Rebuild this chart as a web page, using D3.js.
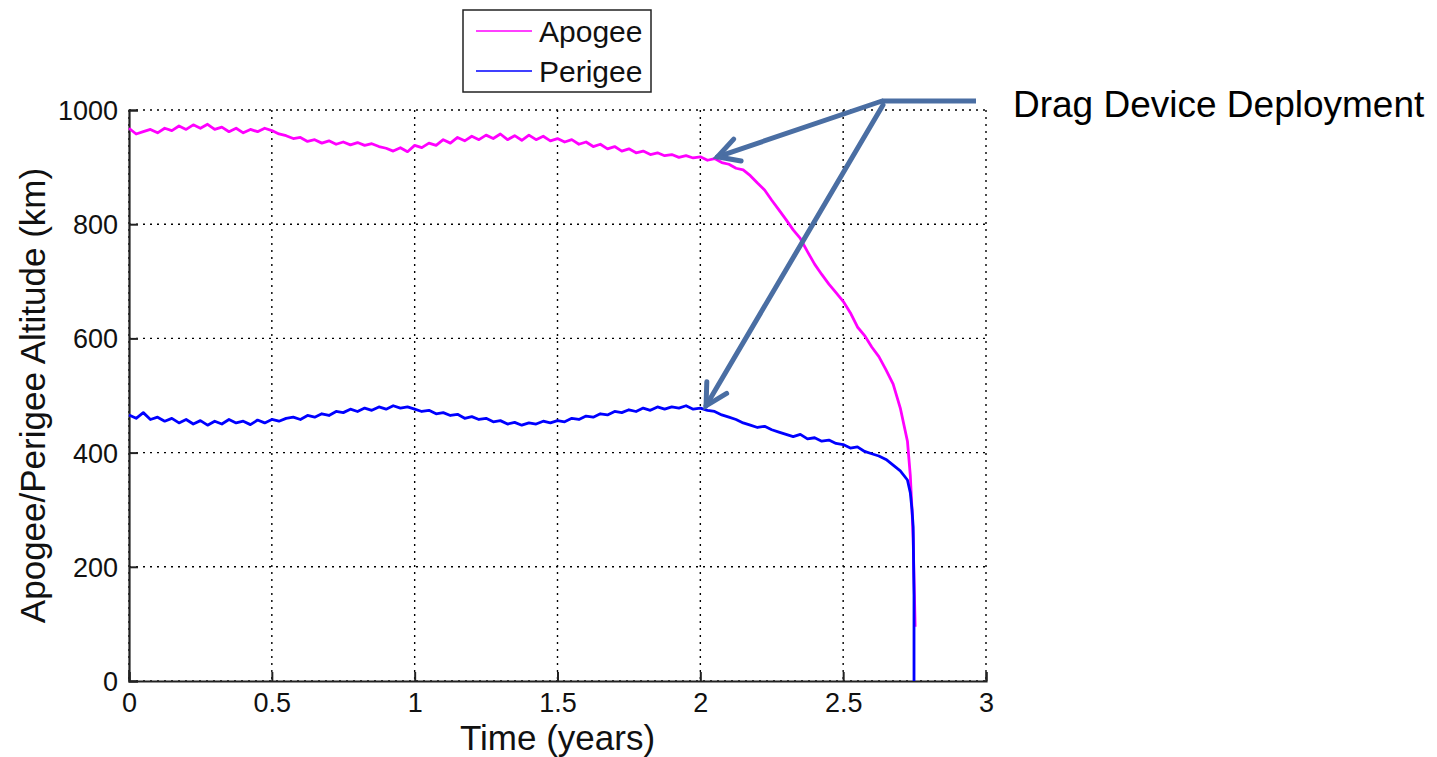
<!DOCTYPE html>
<html>
<head>
<meta charset="utf-8">
<script src="https://cdn.jsdelivr.net/npm/d3@7"></script>
<style>
  body { margin: 0; background: #fff; }
  svg { font-family: "Liberation Sans", Arial, Helvetica, sans-serif; }
</style>
</head>
<body>
<svg id="chart" width="1437" height="757"></svg>
<script>
// sample times (years), rows of 10 = 0.25 yr each
var years = [
  0.000,0.025,0.050,0.075,0.100,0.125,0.150,0.175,0.200,0.225,
  0.250,0.275,0.300,0.325,0.350,0.375,0.400,0.425,0.450,0.475,
  0.500,0.525,0.550,0.575,0.600,0.625,0.650,0.675,0.700,0.725,
  0.750,0.775,0.800,0.825,0.850,0.875,0.900,0.925,0.950,0.975,
  1.000,1.025,1.050,1.075,1.100,1.125,1.150,1.175,1.200,1.225,
  1.250,1.275,1.300,1.325,1.350,1.375,1.400,1.425,1.450,1.475,
  1.500,1.525,1.550,1.575,1.600,1.625,1.650,1.675,1.700,1.725,
  1.750,1.775,1.800,1.825,1.850,1.875,1.900,1.925,1.950,1.975,
  2.000,2.025,2.050,2.075,2.100,2.125,2.150,2.175,2.200,2.225,
  2.250,2.275,2.300,2.325,2.350,2.375,2.400,2.425,2.450,2.475,
  2.500,2.525,2.550,2.575,2.600,2.625,2.650,2.675,2.700,2.725
];
var apogee = [
  968,958,962,966,960,968,964,972,966,974,
  968,975,966,970,962,968,960,966,962,968,
  964,958,955,950,952,945,948,942,946,940,
  944,939,943,938,941,936,933,928,934,927,
  938,934,942,938,948,942,952,946,954,948,
  956,950,958,948,955,947,956,948,954,946,
  950,944,948,940,944,936,940,932,936,928,
  932,925,928,922,925,920,922,917,920,916,
  918,912,915,908,905,898,895,885,872,860,
  842,825,808,790,775,752,730,712,695,680,
  665,645,620,605,585,568,545,520,478,420
];
var perigee = [
  466,460,470,458,462,455,460,452,458,450,
  456,448,455,450,458,452,455,449,457,452,
  458,455,460,462,458,465,462,468,465,472,
  470,476,472,478,474,480,476,482,478,480,
  476,472,474,468,470,465,467,460,463,458,
  460,454,456,450,453,448,452,450,455,452,
  456,454,460,458,464,462,468,466,472,470,
  475,472,478,474,480,476,480,478,482,476,
  478,474,472,466,462,458,452,448,444,446,
  440,436,432,428,432,424,426,420,422,416,
  414,408,410,402,398,394,388,378,368,352
];
// final decay samples
var apogeeTailYears = [2.735, 2.741, 2.745, 2.748, 2.752];
var apogeeTail = [360, 300, 250, 180, 95];
var perigeeTailYears = [2.735, 2.741, 2.745, 2.748, 2.748];
var perigeeTail = [330, 300, 270, 150, 0];

var xTicks = [0, 0.5, 1, 1.5, 2, 2.5, 3];
var yTicks = [0, 200, 400, 600, 800, 1000];
var legendNames = ["Apogee", "Perigee"];
var seriesColors = ["#ff00ff", "#0000ff"];

var margin = {top: 110, right: 451, bottom: 76, left: 129}
  , width = 1437 - margin.left - margin.right
  , height = 757 - margin.top - margin.bottom;

var svg = d3.select("#chart");
var g = svg.append("g")
    .attr("transform", "translate(" + margin.left + "," + margin.top + ")");

var xScale = d3.scaleLinear().domain([0, 3]).range([0, width]);
var yScale = d3.scaleLinear().domain([0, 1000]).range([height, 0]);

// grid
g.selectAll(".vgrid").data(xTicks).enter().append("line")
    .attr("x1", function(d){ return xScale(d); })
    .attr("x2", function(d){ return xScale(d); })
    .attr("y1", 0).attr("y2", height)
    .attr("stroke", "#000").attr("stroke-width", 1.4)
    .attr("stroke-dasharray", "2,5");
g.selectAll(".hgrid").data(yTicks).enter().append("line")
    .attr("y1", function(d){ return yScale(d); })
    .attr("y2", function(d){ return yScale(d); })
    .attr("x1", 0).attr("x2", width)
    .attr("stroke", "#000").attr("stroke-width", 1.4)
    .attr("stroke-dasharray", "2,5");

// axes
var xAxis = g.append("g")
    .attr("transform", "translate(0," + height + ")")
    .call(d3.axisBottom(xScale).tickValues(xTicks).tickSize(-9).tickPadding(20)
        .tickFormat(function(d){ return d; }));
var yAxis = g.append("g")
    .call(d3.axisLeft(yScale).tickValues(yTicks).tickSize(-9).tickPadding(11)
        .tickFormat(function(d){ return d; }));

[xAxis, yAxis].forEach(function(a){
    a.select(".domain").attr("stroke", "#222").attr("stroke-width", 2.2);
    a.selectAll(".tick line").attr("stroke", "#222").attr("stroke-width", 2);
    a.selectAll(".tick text").attr("font-size", 27).attr("fill", "#111")
        .attr("font-family", "Liberation Sans, Arial, sans-serif");
});
xAxis.selectAll(".tick text").attr("dy", "0.4em");
yAxis.selectAll(".tick text").attr("dy", "0.35em");

// lines
var line = d3.line()
    .x(function(d){ return xScale(d[0]); })
    .y(function(d){ return yScale(d[1]); });

var apoData = years.map(function(t, i){ return [t, apogee[i]]; })
    .concat(apogeeTailYears.map(function(t, i){ return [t, apogeeTail[i]]; }));
var periData = years.map(function(t, i){ return [t, perigee[i]]; })
    .concat(perigeeTailYears.map(function(t, i){ return [t, perigeeTail[i]]; }));

g.append("path").datum(apoData)
    .attr("d", line).attr("fill", "none")
    .attr("stroke", seriesColors[0]).attr("stroke-width", 2.8)
    .attr("stroke-linejoin", "round");
g.append("path").datum(periData)
    .attr("d", line).attr("fill", "none")
    .attr("stroke", seriesColors[1]).attr("stroke-width", 2.8)
    .attr("stroke-linejoin", "round");

// axis titles
svg.append("text")
    .attr("x", margin.left + width / 2).attr("y", 750)
    .attr("text-anchor", "middle").attr("font-size", 35).attr("fill", "#111")
    .text("Time (years)");
svg.append("text")
    .attr("transform", "translate(45," + (margin.top + height / 2) + ") rotate(-90)")
    .attr("text-anchor", "middle").attr("font-size", 35).attr("fill", "#111")
    .text("Apogee/Perigee Altitude (km)");

// legend
var legend = svg.append("g").attr("transform", "translate(463,10)");
legend.append("rect")
    .attr("width", 188).attr("height", 82)
    .attr("fill", "#fff").attr("stroke", "#222").attr("stroke-width", 1.5);
legendNames.forEach(function(name, i){
    var yy = 21 + i * 40;
    legend.append("line")
        .attr("x1", 13).attr("x2", 69).attr("y1", yy).attr("y2", yy)
        .attr("stroke", seriesColors[i]).attr("stroke-width", 1.6);
    legend.append("text")
        .attr("x", 76).attr("y", yy + 11)
        .attr("font-size", 30).attr("fill", "#111")
        .text(name);
});

// annotation arrows
var arrowColor = "#4a6ea3";
var hub = [882, 101];
svg.append("line")
    .attr("x1", 976).attr("y1", 101).attr("x2", hub[0]).attr("y2", hub[1])
    .attr("stroke", arrowColor).attr("stroke-width", 5);

function arrow(x0, y0, t, v){
    var x1 = margin.left + xScale(t), y1 = margin.top + yScale(v);
    svg.append("line")
        .attr("x1", x0).attr("y1", y0).attr("x2", x1).attr("y2", y1)
        .attr("stroke", arrowColor).attr("stroke-width", 5)
        .attr("stroke-linecap", "round");
    var ang = Math.atan2(y0 - y1, x0 - x1), len = 24, spread = 0.5;
    var p1 = [x1 + len * Math.cos(ang - spread), y1 + len * Math.sin(ang - spread)];
    var p2 = [x1 + len * Math.cos(ang + spread), y1 + len * Math.sin(ang + spread)];
    svg.append("path")
        .attr("d", "M" + p1 + "L" + x1 + "," + y1 + "L" + p2)
        .attr("fill", "none").attr("stroke", arrowColor).attr("stroke-width", 5)
        .attr("stroke-linecap", "round").attr("stroke-linejoin", "miter");
}
arrow(hub[0], hub[1], 2.06, 918);
arrow(hub[0] + 1, hub[1] + 4, 2.02, 482);

svg.append("text")
    .attr("x", 1013).attr("y", 117)
    .attr("font-size", 37).attr("fill", "#000")
    .text("Drag Device Deployment");
</script>
</body>
</html>
